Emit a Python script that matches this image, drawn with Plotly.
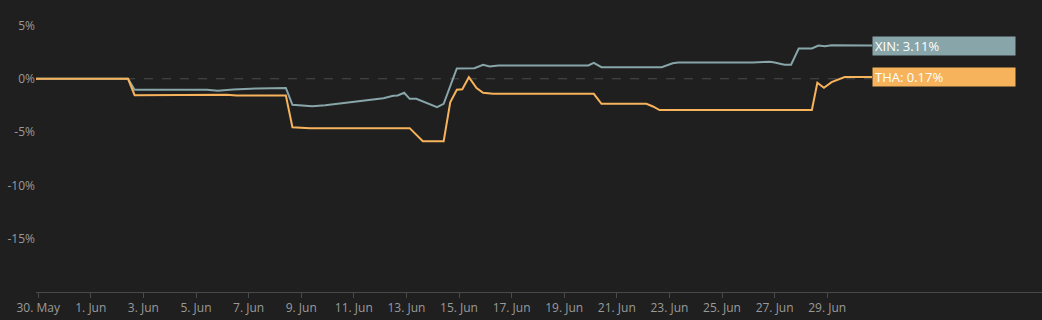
import plotly.graph_objects as go

xin_dates = [
    "2025-05-29 22:00", "2025-06-02 10:00", "2025-06-02 16:00", "2025-06-05 10:00",
    "2025-06-05 20:00", "2025-06-06 10:00", "2025-06-07 08:00", "2025-06-08 10:00",
    "2025-06-08 16:00", "2025-06-09 10:00", "2025-06-09 22:00", "2025-06-11 01:00",
    "2025-06-12 03:00", "2025-06-12 12:00", "2025-06-12 16:00", "2025-06-12 22:00",
    "2025-06-13 03:00", "2025-06-13 09:00", "2025-06-13 17:00", "2025-06-14 04:00",
    "2025-06-14 10:00", "2025-06-14 22:00", "2025-06-15 14:00", "2025-06-15 22:00",
    "2025-06-16 04:00", "2025-06-16 12:00", "2025-06-19 22:00", "2025-06-20 03:00",
    "2025-06-20 10:00", "2025-06-22 17:00", "2025-06-23 03:00", "2025-06-23 08:00",
    "2025-06-26 04:00", "2025-06-26 20:00", "2025-06-27 00:00", "2025-06-27 09:00",
    "2025-06-27 15:00", "2025-06-27 22:00", "2025-06-28 10:00", "2025-06-28 16:00",
    "2025-06-28 22:00", "2025-06-29 04:00", "2025-06-30 17:00",
]
xin_values = [
    0.0, 0.0, -1.03, -1.03,
    -1.13, -1.0, -0.91, -0.86,
    -2.44, -2.57, -2.48, -2.13,
    -1.82, -1.59, -1.57, -1.31,
    -1.88, -1.88, -2.2, -2.66,
    -2.35, 0.97, 0.99, 1.31,
    1.15, 1.25, 1.25, 1.5,
    1.09, 1.09, 1.46, 1.53,
    1.53, 1.59, 1.53, 1.31,
    1.31, 2.84, 2.84, 3.12,
    3.06, 3.15, 3.11,
]

tha_dates = [
    "2025-05-29 22:00", "2025-06-02 10:00", "2025-06-02 16:00", "2025-06-06 04:00",
    "2025-06-06 13:00", "2025-06-08 10:00", "2025-06-08 16:00", "2025-06-09 08:00",
    "2025-06-13 03:00", "2025-06-13 15:00", "2025-06-14 10:00", "2025-06-14 16:00",
    "2025-06-14 22:00", "2025-06-15 03:00", "2025-06-15 09:00", "2025-06-15 16:00",
    "2025-06-15 22:00", "2025-06-16 07:00", "2025-06-20 03:00", "2025-06-20 10:00",
    "2025-06-22 03:00", "2025-06-22 09:00", "2025-06-22 15:00", "2025-06-28 10:00",
    "2025-06-28 15:00", "2025-06-28 21:00", "2025-06-29 04:00", "2025-06-29 16:00",
    "2025-06-30 17:00",
]
tha_values = [
    0.0, 0.0, -1.54, -1.5,
    -1.57, -1.57, -4.54, -4.63,
    -4.63, -5.85, -5.85, -2.2,
    -1.03, -0.98, 0.15, -0.88,
    -1.31, -1.41, -1.41, -2.35,
    -2.35, -2.6, -2.93, -2.93,
    -0.38, -0.84, -0.32, 0.17,
    0.17,
]

series = [
    ("XIN", xin_dates, xin_values, "#88a6a9"),
    ("THA", tha_dates, tha_values, "#f6b35c"),
]

tick_dates = ["2025-05-30", "2025-06-01", "2025-06-03", "2025-06-05", "2025-06-07",
              "2025-06-09", "2025-06-11", "2025-06-13", "2025-06-15", "2025-06-17",
              "2025-06-19", "2025-06-21", "2025-06-23", "2025-06-25", "2025-06-27",
              "2025-06-29"]
tick_labels = ["30. May", "1. Jun", "3. Jun", "5. Jun", "7. Jun", "9. Jun", "11. Jun",
               "13. Jun", "15. Jun", "17. Jun", "19. Jun", "21. Jun", "23. Jun",
               "25. Jun", "27. Jun", "29. Jun"]
y_ticks = [-15, -10, -5, 0, 5]
y_labels = ["-15%", "-10%", "-5%", "0%", "5%"]

fig = go.Figure()

fig.add_shape(type="line", xref="x", yref="y",
              x0=xin_dates[0], x1=xin_dates[-1], y0=0, y1=0,
              line=dict(color="#4d4d4d", width=1, dash="dash"), layer="below")

for name, xs, ys, color in series:
    fig.add_trace(go.Scatter(x=xs, y=ys, mode="lines", name=name,
                             line=dict(color=color, width=2), hoverinfo="skip"))
    fig.add_annotation(x=xs[-1], y=ys[-1], xref="x", yref="y",
                       text=f"{name}: {ys[-1]:.2f}%", showarrow=False,
                       xanchor="left", yanchor="middle", align="left",
                       width=138, height=14, borderpad=2, bgcolor=color,
                       font=dict(family="Open Sans", size=13, color="#ffffff"))

fig.update_layout(
    width=1042, height=320,
    margin=dict(l=36, r=0, t=10, b=28),
    paper_bgcolor="#1f1f1f", plot_bgcolor="#1f1f1f",
    showlegend=False,
    font=dict(family="Open Sans", size=12, color="#9a9a9a"),
)
fig.update_xaxes(
    type="date", range=["2025-05-29 22:00", "2025-07-07 04:00"],
    tickvals=tick_dates, ticktext=tick_labels,
    showgrid=False, zeroline=False,
    showline=True, linecolor="#4a4a4a", linewidth=1,
    ticks="outside", ticklen=5, tickcolor="#4a4a4a",
    tickfont=dict(family="Open Sans", size=12, color="#9a9a9a"),
)
fig.update_yaxes(
    range=[-20, 6.45], tickvals=y_ticks, ticktext=y_labels,
    showgrid=False, zeroline=False, showline=False, ticks="",
    automargin=False,
    tickfont=dict(family="Open Sans", size=12, color="#9a9a9a"),
)

fig.write_html("out.html")
